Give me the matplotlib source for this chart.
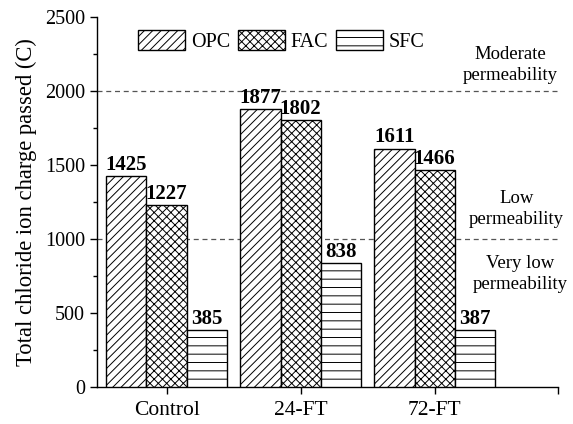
import matplotlib
matplotlib.use("Agg")
import matplotlib.pyplot as plt
import numpy as np

categories = ["Control", "24-FT", "72-FT"]
series = ["OPC", "FAC", "SFC"]
opc = [1425, 1877, 1611]
fac = [1227, 1802, 1466]
sfc = [385, 838, 387]
thresholds = [1000, 2000]

plt.rcParams["font.family"] = ["Liberation Serif", "DejaVu Serif"]
plt.rcParams["hatch.linewidth"] = 0.7
plt.rcParams["hatch.color"] = "black"

fig = plt.figure(figsize=(5.73, 4.24), dpi=100)
ax = fig.add_axes([0.169, 0.0873, 0.805, 0.8727])

x = np.arange(len(categories))
w = 0.30
hatches = ["////", "xxxx", "--"]
values = [opc, fac, sfc]
for i, (name, vals, h) in enumerate(zip(series, values, hatches)):
    pos = x + (i - 1) * w
    ax.bar(pos, vals, width=w, facecolor="white", edgecolor="black",
           linewidth=1.0, hatch=h, label=name, zorder=3)
    for xp, v in zip(pos, vals):
        ax.text(xp, v + 8, f"{v}", ha="center", va="bottom",
                fontsize=15, fontweight="bold", zorder=4)

for t in thresholds:
    ax.axhline(t, color="#555555", linestyle=(0, (4, 3)), linewidth=0.9, zorder=1)

ax.set_xlim(-0.52, 2.92)
ax.set_ylim(0, 2500)
ax.set_xticks(list(x) + [2.92])
ax.set_xticklabels(categories + [""])
ax.set_yticks(np.arange(0, 2501, 500))
ax.set_yticks(np.arange(0, 2501, 250), minor=True)
ax.tick_params(axis="y", which="major", labelsize=14.5, direction="out",
               length=5, width=1)
ax.tick_params(axis="x", which="major", labelsize=15.5, direction="out",
               length=5, width=1, pad=5)
ax.tick_params(axis="y", which="minor", direction="out", length=3, width=1)
for s in ["top", "right"]:
    ax.spines[s].set_visible(False)
for s in ["left", "bottom"]:
    ax.spines[s].set_linewidth(1.0)

ax.set_ylabel("Total chloride ion charge passed (C)", fontsize=16.3, labelpad=6)

ax.text(2.56, 2176, "Moderate\npermeability", ha="center", va="center",
        fontsize=13.5, linespacing=1.35, clip_on=False)
ax.text(2.61, 1203, "Low\npermeability", ha="center", va="center",
        fontsize=13.5, linespacing=1.35, clip_on=False)
ax.text(2.64, 764, "Very low\npermeability", ha="center", va="center",
        fontsize=13.5, linespacing=1.35, clip_on=False)

ax.legend(loc="upper left", bbox_to_anchor=(0.089, 0.965), ncol=3,
          frameon=False, fontsize=14.5, handlelength=2.35, handleheight=1.15,
          handletextpad=0.3, columnspacing=0.35, borderpad=0, borderaxespad=0)

fig.savefig("out.png", dpi=100)
